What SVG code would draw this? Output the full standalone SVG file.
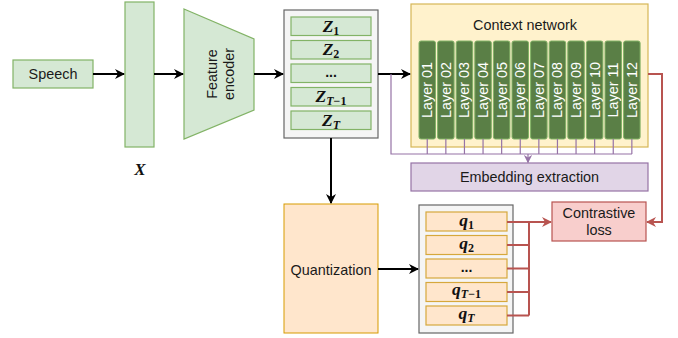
<svg xmlns="http://www.w3.org/2000/svg" width="678" height="338" viewBox="0 0 678 338">
  <style>
    .lbl { font-family: "Liberation Sans", Arial, sans-serif; font-size: 14.4px; fill: #1a1a1a; text-anchor: middle; dominant-baseline: central; }
    .math { font-family: "Liberation Serif", "Times New Roman", serif; font-style: italic; font-weight: bold; font-size: 17.5px; fill: #111; text-anchor: middle; }
    .sub { font-size: 12px; font-style: normal; }
    .subi { font-size: 12px; }
    .dots { font-family: "Liberation Sans", Arial, sans-serif; font-weight: bold; font-size: 14px; fill: #111; text-anchor: middle; }
    .green { fill: #d5e8d4; stroke: #82b366; stroke-width: 1.2; }
    .orange { fill: #ffe6cc; stroke: #d79b00; stroke-width: 1; }
    .qitem { fill: #ffe6cc; stroke: #d6a83c; stroke-width: 1.2; }
    .frame { fill: #f5f5f5; stroke: #666666; stroke-width: 1.2; }
    .layer { fill: #5a7f46; stroke: #82b366; stroke-width: 1; }
    .layertxt { font-family: "Liberation Sans", Arial, sans-serif; font-size: 14.4px; fill: #ffffff; text-anchor: middle; dominant-baseline: central; }
    .blk { stroke: #000; stroke-width: 2; fill: none; }
    .red { stroke: #b85450; stroke-width: 2; fill: none; }
    .pur { stroke: #9673a6; stroke-width: 1.2; fill: none; }
  </style>
  <defs>
    <marker id="arrBlk" viewBox="0 0 10 10" refX="9" refY="5" markerWidth="5" markerHeight="5" orient="auto" markerUnits="strokeWidth">
      <path d="M0,0 L10,5 L0,10 L3,5 z" fill="#000"/>
    </marker>
    <marker id="arrRed" viewBox="0 0 10 10" refX="9" refY="5" markerWidth="5" markerHeight="5" orient="auto" markerUnits="strokeWidth">
      <path d="M0,0 L10,5 L0,10 L3,5 z" fill="#b85450"/>
    </marker>
    <marker id="arrPur" viewBox="0 0 10 10" refX="9" refY="5" markerWidth="7" markerHeight="7" orient="auto" markerUnits="strokeWidth">
      <path d="M0,0 L10,5 L0,10 L3,5 z" fill="#9673a6"/>
    </marker>
  </defs>

  <!-- Input speech -->
  <g id="speech">
    <rect class="green" x="13" y="60" width="80" height="28"/>
    <text class="lbl" x="53" y="74">Speech</text>
  </g>

  <!-- Raw waveform X -->
  <g id="x-input">
    <rect class="green" x="125" y="2" width="29" height="145"/>
    <text x="140" y="175" font-family="'Liberation Serif', serif" font-style="italic" font-weight="bold" font-size="17" text-anchor="middle" fill="#111">X</text>
  </g>

  <!-- Feature encoder -->
  <g id="feature-encoder">
    <polygon class="green" points="184,9 254,39 254,110 184,139"/>
    <g transform="translate(220,74) rotate(-90)">
      <text class="lbl" x="0" y="-8">Feature</text>
      <text class="lbl" x="0" y="9">encoder</text>
    </g>
  </g>

  <!-- Latent representations Z -->
  <g id="latents">
    <rect class="frame" x="284" y="10" width="94" height="128"/>
    <rect class="green" x="291" y="17" width="80" height="18.5"/>
    <text class="math" x="331" y="31.5">Z<tspan class="sub" dy="3">1</tspan></text>
    <rect class="green" x="291" y="40.5" width="80" height="18.5"/>
    <text class="math" x="331" y="55">Z<tspan class="sub" dy="3">2</tspan></text>
    <rect class="green" x="291" y="64" width="80" height="18.5"/>
    <text class="dots" x="331" y="77">...</text>
    <rect class="green" x="291" y="87.5" width="80" height="18.5"/>
    <text class="math" x="331" y="102">Z<tspan class="subi" dy="3">T</tspan><tspan class="sub">−1</tspan></text>
    <rect class="green" x="291" y="111" width="80" height="18.5"/>
    <text class="math" x="331" y="125.5">Z<tspan class="subi" dy="3">T</tspan></text>
  </g>

  <!-- Context network -->
  <g id="context-network">
    <rect x="411" y="4" width="237" height="143" fill="#fff2cc" stroke="#d6b656" stroke-width="1.2"/>
    <text class="lbl" x="525" y="25">Context network</text>
    <g id="layers">
      <rect class="layer" x="419" y="41" width="16.5" height="98" rx="2"/>
      <rect class="layer" x="437.6" y="41" width="16.5" height="98" rx="2"/>
      <rect class="layer" x="456.2" y="41" width="16.5" height="98" rx="2"/>
      <rect class="layer" x="474.8" y="41" width="16.5" height="98" rx="2"/>
      <rect class="layer" x="493.4" y="41" width="16.5" height="98" rx="2"/>
      <rect class="layer" x="512" y="41" width="16.5" height="98" rx="2"/>
      <rect class="layer" x="530.6" y="41" width="16.5" height="98" rx="2"/>
      <rect class="layer" x="549.2" y="41" width="16.5" height="98" rx="2"/>
      <rect class="layer" x="567.8" y="41" width="16.5" height="98" rx="2"/>
      <rect class="layer" x="586.4" y="41" width="16.5" height="98" rx="2"/>
      <rect class="layer" x="605" y="41" width="16.5" height="98" rx="2"/>
      <rect class="layer" x="623.6" y="41" width="16.5" height="98" rx="2"/>
      <text class="layertxt" transform="translate(427.25,90) rotate(-90)">Layer 01</text>
      <text class="layertxt" transform="translate(445.85,90) rotate(-90)">Layer 02</text>
      <text class="layertxt" transform="translate(464.45,90) rotate(-90)">Layer 03</text>
      <text class="layertxt" transform="translate(483.05,90) rotate(-90)">Layer 04</text>
      <text class="layertxt" transform="translate(501.65,90) rotate(-90)">Layer 05</text>
      <text class="layertxt" transform="translate(520.25,90) rotate(-90)">Layer 06</text>
      <text class="layertxt" transform="translate(538.85,90) rotate(-90)">Layer 07</text>
      <text class="layertxt" transform="translate(557.45,90) rotate(-90)">Layer 08</text>
      <text class="layertxt" transform="translate(576.05,90) rotate(-90)">Layer 09</text>
      <text class="layertxt" transform="translate(594.65,90) rotate(-90)">Layer 10</text>
      <text class="layertxt" transform="translate(613.25,90) rotate(-90)">Layer 11</text>
      <text class="layertxt" transform="translate(631.85,90) rotate(-90)">Layer 12</text>
    </g>
  </g>

  <!-- Embedding extraction -->
  <g id="embedding-extraction">
    <rect x="411" y="163" width="237" height="28" fill="#e1d5e7" stroke="#9673a6" stroke-width="1.2"/>
    <text class="lbl" x="529.5" y="177">Embedding extraction</text>
  </g>

  <!-- Quantization -->
  <g id="quantization">
    <rect class="orange" x="284" y="204" width="94" height="129"/>
    <text class="lbl" x="331" y="270">Quantization</text>
  </g>

  <!-- Quantized targets q -->
  <g id="quantized">
    <rect class="frame" x="419" y="205" width="94" height="128"/>
    <rect class="qitem" x="426" y="212" width="81" height="19"/>
    <text class="math" x="466.5" y="225.5">q<tspan class="sub" dy="3">1</tspan></text>
    <rect class="qitem" x="426" y="235.5" width="81" height="19"/>
    <text class="math" x="466.5" y="249">q<tspan class="sub" dy="3">2</tspan></text>
    <rect class="qitem" x="426" y="259" width="81" height="19"/>
    <text class="dots" x="466.5" y="272">...</text>
    <rect class="qitem" x="426" y="282.5" width="81" height="19"/>
    <text class="math" x="466.5" y="295">q<tspan class="subi" dy="3">T</tspan><tspan class="sub">−1</tspan></text>
    <rect class="qitem" x="426" y="306" width="81" height="19"/>
    <text class="math" x="466.5" y="318.5">q<tspan class="subi" dy="3">T</tspan></text>
  </g>

  <!-- Contrastive loss -->
  <g id="contrastive-loss">
    <rect x="552" y="202" width="94" height="39" fill="#f8cecc" stroke="#b85450" stroke-width="1.2"/>
    <text class="lbl" x="599" y="213">Contrastive</text>
    <text class="lbl" x="599" y="230">loss</text>
  </g>

  <!-- Connectors -->
  <g id="connectors">
    <line class="blk" x1="93" y1="74" x2="124" y2="74" marker-end="url(#arrBlk)"/>
    <line class="blk" x1="154" y1="74" x2="183" y2="74" marker-end="url(#arrBlk)"/>
    <line class="blk" x1="254" y1="74" x2="283" y2="74" marker-end="url(#arrBlk)"/>
    <line class="blk" x1="378" y1="74" x2="410" y2="74" marker-end="url(#arrBlk)"/>
    <line class="blk" x1="331" y1="138" x2="331" y2="203" marker-end="url(#arrBlk)"/>
    <line class="blk" x1="378" y1="269" x2="418" y2="269" marker-end="url(#arrBlk)"/>

    <!-- layer outputs gathered for embedding extraction -->
    <path class="pur" d="M391,74 V154 H632"/>
    <path class="pur" d="M427.25,139 V154 M445.85,139 V154 M464.45,139 V154 M483.05,139 V154 M501.65,139 V154 M520.25,139 V154 M538.85,139 V154 M557.45,139 V154 M576.05,139 V154 M594.65,139 V154 M613.25,139 V154 M631.85,139 V154"/>
    <line class="pur" x1="528" y1="154" x2="528" y2="162.5" marker-end="url(#arrPur)"/>

    <!-- context output to contrastive loss -->
    <path class="red" d="M648,74 H662 V222 H647" marker-end="url(#arrRed)"/>

    <!-- quantized targets to contrastive loss -->
    <path class="red" d="M507,245 H529 M507,268.5 H529 M507,292 H529 M507,315.5 H529 M529,222 V315.5"/>
    <line class="red" x1="507" y1="222" x2="551" y2="222" marker-end="url(#arrRed)"/>
  </g>
</svg>
